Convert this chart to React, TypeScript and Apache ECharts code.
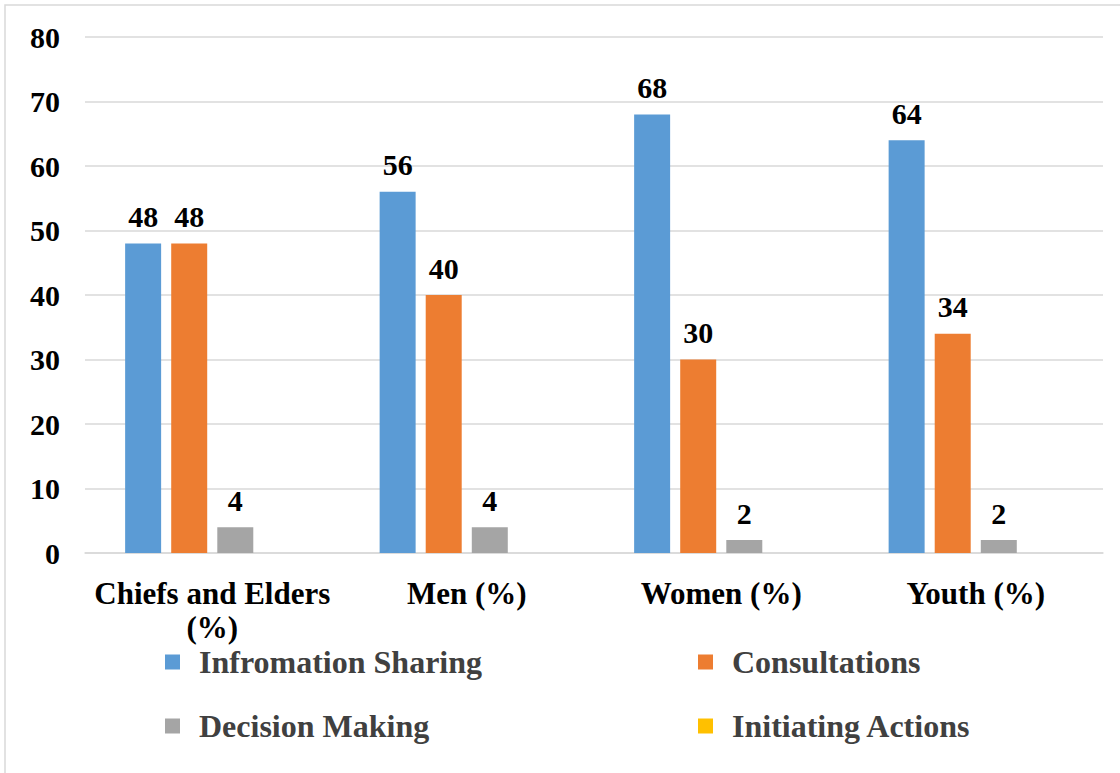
import React, { useEffect, useRef } from "react";
import * as echarts from "echarts";

const categories = ["Chiefs and Elders\n(%)", "Men (%)", "Women (%)", "Youth (%)"];
const infoSharing = [48, 56, 68, 64];
const consultations = [48, 40, 30, 34];
const decisionMaking = [4, 4, 2, 2];
const initiatingActions = [0, 0, 0, 0];
const yTicks = [0, 80, 10];

const FONT = "'Liberation Serif', 'Times New Roman', serif";

export default function App() {
  const ref = useRef<HTMLDivElement>(null);
  useEffect(() => {
    if (!ref.current) return;
    const chart = echarts.init(ref.current, null, { renderer: "svg" });
    const label = {
      show: true,
      position: "top",
      distance: 12,
      fontFamily: FONT,
      fontWeight: "bold",
      fontSize: 30,
      color: "#000",
    };
    const legendText = {
      fontFamily: FONT,
      fontWeight: "bold",
      fontSize: 32,
      color: "#404040",
      padding: [0, 0, 0, 14],
    };
    chart.setOption({
      animation: false,
      backgroundColor: "#fff",
      graphic: [
        {
          type: "rect",
          shape: { x: 5, y: 5, width: 1200, height: 900 },
          style: { fill: "none", stroke: "#d9d9d9", lineWidth: 1.5 },
          silent: true,
        },
      ],
      grid: { left: 85, right: 17, top: 37, bottom: 220 },
      xAxis: {
        type: "category",
        data: categories,
        axisLine: { lineStyle: { color: "#d9d9d9", width: 1.5 } },
        axisTick: { show: false },
        axisLabel: {
          fontFamily: FONT,
          fontWeight: "bold",
          fontSize: 31,
          color: "#000",
          margin: 23,
          lineHeight: 34,
          interval: 0,
        },
      },
      yAxis: {
        type: "value",
        min: yTicks[0],
        max: yTicks[1],
        interval: yTicks[2],
        axisLine: { show: false },
        axisTick: { show: false },
        splitLine: { lineStyle: { color: "#d9d9d9", width: 1.5 } },
        axisLabel: {
          fontFamily: FONT,
          fontWeight: "bold",
          fontSize: 30,
          color: "#000",
          margin: 25,
        },
      },
      legend: [
        {
          data: ["Infromation Sharing", "Decision Making"],
          orient: "vertical",
          left: 160,
          top: 641,
          itemWidth: 15,
          itemHeight: 15,
          itemGap: 32,
          icon: "rect",
          textStyle: legendText,
          selectedMode: false,
        },
        {
          data: ["Consultations", "Initiating Actions"],
          orient: "vertical",
          left: 693,
          top: 641,
          itemWidth: 15,
          itemHeight: 15,
          itemGap: 32,
          icon: "rect",
          textStyle: legendText,
          selectedMode: false,
        },
      ],
      series: [
        {
          name: "Infromation Sharing",
          type: "bar",
          data: infoSharing,
          itemStyle: { color: "#5b9bd5" },
          barWidth: 36,
          barGap: "28%",
          label,
        },
        {
          name: "Consultations",
          type: "bar",
          data: consultations,
          itemStyle: { color: "#ed7d31" },
          barWidth: 36,
          barGap: "28%",
          label,
        },
        {
          name: "Decision Making",
          type: "bar",
          data: decisionMaking,
          itemStyle: { color: "#a5a5a5" },
          barWidth: 36,
          barGap: "28%",
          label,
        },
        {
          name: "Initiating Actions",
          type: "bar",
          data: initiatingActions,
          itemStyle: { color: "#ffc000" },
          barWidth: 36,
          barGap: "28%",
          label: { show: false },
        },
      ],
    });
    return () => chart.dispose();
  }, []);
  return (
    <div
      ref={ref}
      style={{ position: "fixed", left: 0, top: 0, width: 1120, height: 773 }}
    />
  );
}
